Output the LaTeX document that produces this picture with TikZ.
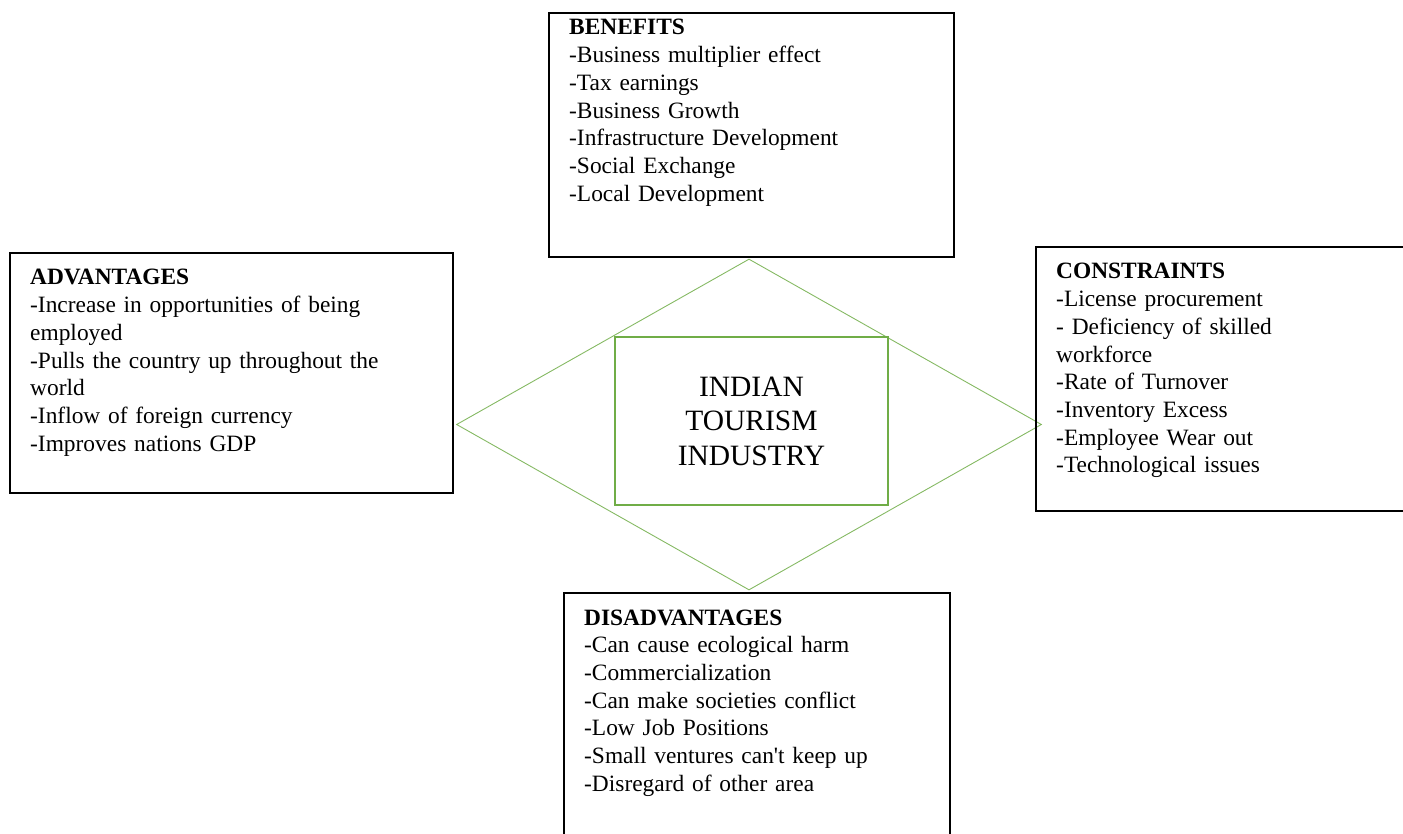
\documentclass[tikz,border=0pt]{standalone}
\usepackage{fontspec}
\setmainfont{Liberation Serif}
\usepackage{xcolor}
\usepackage{tikz}
\usetikzlibrary{shapes.geometric,positioning}
\definecolor{leafgreen}{HTML}{70AD47}

\begin{document}
\begin{tikzpicture}[
  x=1pt, y=-1pt,
  panel/.style = {draw, line width=1.9pt, anchor=north west, inner sep=0pt},
  items/.style = {anchor=base west, inner sep=0pt, text width=#1, align=left,
                  font=\fontsize{23.4}{27.7}\selectfont},
  items/.default = 360pt,
  core/.style  = {draw=leafgreen, line width=2.6pt,
                  minimum width=273pt, minimum height=168pt, align=center,
                  font=\fontsize{29.5}{34.5}\selectfont},
  rhomb/.style = {diamond, draw=leafgreen!85, line width=0.9pt, inner sep=0pt,
                  minimum width=585pt, minimum height=331pt},
]
\useasboundingbox (0,0) rectangle (1403,834);

%% ── CENTRE ──────────────────────────────────────────────────────────────
\node[rhomb] (rhomb) at (749,424.5) {};
\node[core]  (core)  at (751.5,421) {INDIAN\\TOURISM\\INDUSTRY};

%% ── PANELS ──────────────────────────────────────────────────────────────
\node[panel, minimum width=405pt, minimum height=244pt] (ben) at (548,12)  {};
\node[panel, minimum width=443pt, minimum height=240pt] (adv) at (9,252)   {};
\node[panel, minimum width=372pt, minimum height=264pt] (con) at (1035,246) {};
\node[panel, minimum width=386pt, minimum height=252pt] (dis) at (563,592) {};

%% ── PANEL TEXTS ─────────────────────────────────────────────────────────
\node[items=380pt] (ben-txt) at ([shift={(21,23)}]ben.north west)
  {\textbf{BENEFITS}\\-Business multiplier effect\\-Tax earnings\\
   -Business Growth\\-Infrastructure Development\\-Social Exchange\\
   -Local Development};
\node[items=420pt] (adv-txt) at ([shift={(21,33)}]adv.north west)
  {\textbf{ADVANTAGES}\\-Increase in opportunities of being\\employed\\
   -Pulls the country up throughout the\\world\\
   -Inflow of foreign currency\\-Improves nations GDP};
\node[items=340pt] (con-txt) at ([shift={(21,33)}]con.north west)
  {\textbf{CONSTRAINTS}\\-License procurement\\- Deficiency of skilled\\
   workforce\\-Rate of Turnover\\-Inventory Excess\\-Employee Wear out\\
   -Technological issues};
\node[items=360pt] (dis-txt) at ([shift={(21,33)}]dis.north west)
  {\textbf{DISADVANTAGES}\\-Can cause ecological harm\\-Commercialization\\
   -Can make societies conflict\\-Low Job Positions\\
   -Small ventures can\textquotesingle t keep up\\-Disregard of other area};

\end{tikzpicture}
\end{document}
